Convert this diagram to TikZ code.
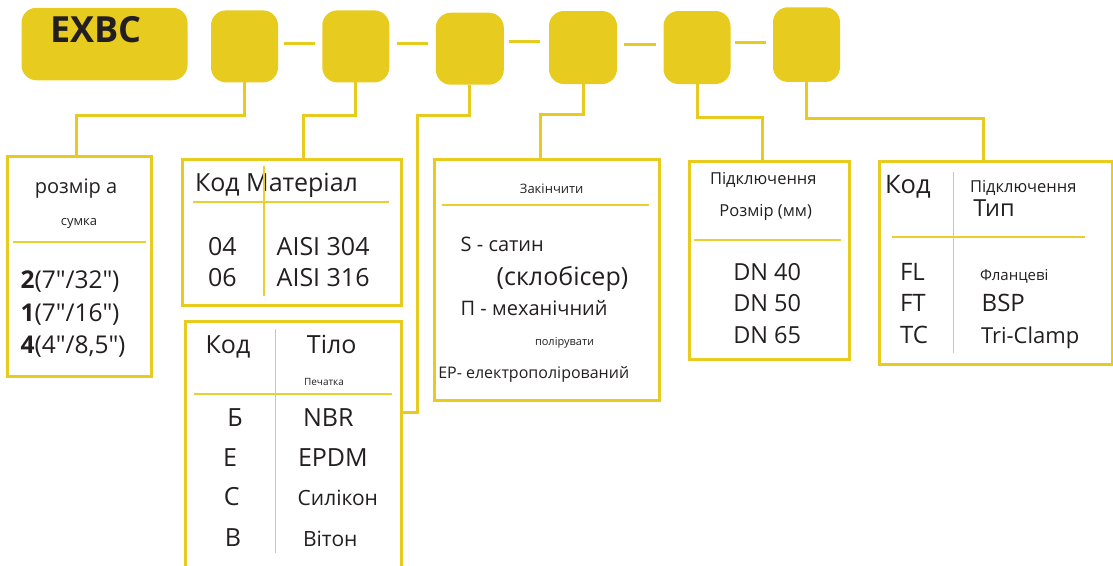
\documentclass[tikz,border=0pt]{standalone}
\usepackage{fontspec}
\setmainfont{Open Sans}
\definecolor{ylw}{HTML}{E8CB1F}
\definecolor{rulecol}{HTML}{EBCF2E}
\definecolor{ink}{HTML}{231F20}
\newcommand\fsz[1]{\fontsize{#1}{#1}\selectfont}
\begin{document}
\begin{tikzpicture}[x=1pt,y=-1pt,
  tagbox/.style={fill=ylw, rounded corners=15pt, inner sep=0pt, outer sep=0pt, minimum width=67pt, minimum height=72pt},
  outbox/.style={draw=ylw, line width=3pt, inner sep=0pt, outer sep=0pt, anchor=north west},
  conn/.style={draw=ylw, line width=3pt},
  link/.style={draw=ylw, line width=3pt},
  rule/.style={draw=rulecol, line width=1.6pt},
  txt/.style={inner sep=0pt, outer sep=0pt, text=ink, anchor=base west},
  ctxt/.style={txt, anchor=base},
]
\useasboundingbox (0,0) rectangle (1113,565);

% top code boxes
\node[tagbox, minimum width=166pt, minimum height=72.5pt] (exbc) at (104.5,44) {};
\node[txt, font=\bfseries\fsz{36}] (exbct) at (50,42.7) {EXBC};
\node[tagbox] (t1) at (244.5,46.4) {};
\node[tagbox] (t2) at (355.8,46.4) {};
\node[tagbox, minimum width=68pt] (t3) at (469.8,48.7) {};
\node[tagbox, minimum width=68pt, minimum height=73pt] (t4) at (583,47.5) {};
\node[tagbox, minimum height=73pt] (t5) at (697,47.5) {};
\node[tagbox, minimum height=74.7pt] (t6) at (806.5,44.6) {};

% dashes between code boxes
\draw[link, shorten <=6pt, shorten >=7pt] (t1.east |- 0,43) -- (t2.west |- 0,43);
\draw[link, shorten <=8pt, shorten >=8pt] (t2.east |- 0,43) -- (t3.west |- 0,43);
\draw[link, shorten <=5pt, shorten >=9pt] (t3.east |- 0,41) -- (t4.west |- 0,41);
\draw[link, shorten <=7pt, shorten >=8pt] (t4.east |- 0,44) -- (t5.west |- 0,44);
\draw[link, shorten <=4.5pt, shorten >=7pt] (t5.east |- 0,42) -- (t6.west |- 0,42);

% lower boxes
\node[outbox, minimum width=144.7pt, minimum height=220pt] (A) at (7,156.7) {};
\node[outbox, minimum width=218.3pt, minimum height=145.7pt] (B) at (182.7,159.3) {};
\node[outbox, minimum width=216pt, minimum height=290pt] (C) at (185,321.7) {};
\node[outbox, minimum width=225.3pt, minimum height=241.4pt] (D) at (434,159.3) {};
\node[outbox, minimum width=159.7pt, minimum height=197.6pt] (E) at (689.3,161.7) {};
\node[outbox, minimum width=233pt, minimum height=202.3pt] (F) at (879.3,161.7) {};

% connectors
\coordinate (k1) at (76,115);
\coordinate (k2) at (303.6,115);
\coordinate (k3) at (417,115);
\coordinate (k4) at (540,114);
\coordinate (k5) at (762,117);
\coordinate (k6) at (983,118);
\draw[conn] (t1.south) |- (k1) -- (k1 |- A.north);
\draw[conn] (t2.south) |- (k2) -- (k2 |- B.north);
\draw[conn] (t3.south) |- (k3) |- (C.east |- 0,412);
\draw[conn] (t4.south) |- (k4) -- (k4 |- D.north);
\draw[conn] (t5.south) |- (k5) -- (k5 |- E.north);
\draw[conn] (t6.south) |- (k6) -- (k6 |- F.north);

% box A
\node[ctxt, font=\fsz{20}] (a1) at (76,193) {розмір а};
\node[ctxt, font=\fsz{13}] (a2) at (79,225) {сумка};
\draw[rule] (13,241.7) -- (146,241.7);
\node[txt, font=\fsz{24.5}] (a3) at (20.7,288) {\textbf{2}(7″/32″)};
\node[txt, font=\fsz{24.5}] (a4) at (20.7,321.7) {\textbf{1}(7″/16″)};
\node[txt, font=\fsz{24.5}] (a5) at (20.7,353) {\textbf{4}(4″/8,5″)};

% box B
\node[txt, font=\fsz{25}] (b1) at (195,191.7) {Код Матеріал};
\draw[rule] (192.7,201.7) -- (389,201.7);
\draw[rule] (264,166) -- (264,295.7);
\node[txt, font=\fsz{25}] (b2) at (208,255) {04};
\node[txt, font=\fsz{25}] (b3) at (208,286.7) {06};
\node[txt, font=\fsz{25}] (b4) at (276.7,255) {AISI 304};
\node[txt, font=\fsz{25}] (b5) at (276.7,286.7) {AISI 316};

% box C
\node[ctxt, font=\fsz{25}] (c1) at (228,353.3) {Код};
\node[ctxt, font=\fsz{25}] (c2) at (331.7,353.3) {Тіло};
\node[ctxt, font=\fsz{10}] (c3) at (324,385) {Печатка};
\draw[rule] (194,394) -- (392,394);
\draw[rule] (275.3,329) -- (275.3,553);
\node[ctxt, font=\fsz{25}] (c4) at (235,426) {Б};
\node[txt, font=\fsz{25}] (c5) at (303,426) {NBR};
\node[ctxt, font=\fsz{25}] (c6) at (230,466) {Е};
\node[txt, font=\fsz{25}] (c7) at (298,466) {EPDM};
\node[ctxt, font=\fsz{25}] (c8) at (231.7,505.7) {С};
\node[txt, font=\fsz{21}] (c9) at (297.7,505.7) {Силікон};
\node[ctxt, font=\fsz{25}] (c10) at (233,546) {В};
\node[txt, font=\fsz{21}] (c11) at (303,546) {Вітон};

% box D
\node[ctxt, font=\fsz{13}] (d1) at (551.7,193.3) {Закінчити};
\draw[rule] (441.7,205) -- (649,205);
\node[txt, font=\fsz{20}] (d2) at (460.7,251) {S - сатин};
\node[txt, font=\fsz{25}] (d3) at (496.7,285) {(склобісер)};
\node[txt, font=\fsz{20}] (d4) at (460.7,315) {П - механічний};
\node[txt, font=\fsz{11}] (d5) at (535,345.7) {полірувати};
\node[txt, font=\fsz{16}] (d6) at (438.3,378.3) {EP- електрополірований};

% box E
\node[ctxt, font=\fsz{16.5}] (e1) at (763.3,184.3) {Підключення};
\node[ctxt, font=\fsz{16.5}] (e2) at (765.7,216.7) {Розмір (мм)};
\draw[rule] (694,240) -- (841,240);
\node[txt, font=\fsz{23.5}] (e3) at (733.3,280) {DN 40};
\node[txt, font=\fsz{23.5}] (e4) at (733.3,311.7) {DN 50};
\node[txt, font=\fsz{23.5}] (e5) at (733.3,343.3) {DN 65};

% box F
\node[txt, font=\fsz{25.5}] (f1) at (885,193.3) {Код};
\draw[rule] (953.3,172.3) -- (953.3,353.3);
\node[txt, font=\fsz{16.5}] (f2) at (970,192.3) {Підключення};
\node[txt, font=\fsz{23.5}] (f3) at (973.3,216) {Тип};
\draw[rule] (892.3,236.7) -- (1085,236.7);
\node[txt, font=\fsz{24}] (f4) at (900,280) {FL};
\node[txt, font=\fsz{24}] (f5) at (900,311.7) {FT};
\node[txt, font=\fsz{24}] (f6) at (900,343.3) {TC};
\node[txt, font=\fsz{15}] (f7) at (980,280) {Фланцеві};
\node[txt, font=\fsz{24}] (f8) at (981.7,311.7) {BSP};
\node[txt, font=\fsz{22}] (f9) at (981,343.3) {Tri-Clamp};
\end{tikzpicture}
\end{document}
